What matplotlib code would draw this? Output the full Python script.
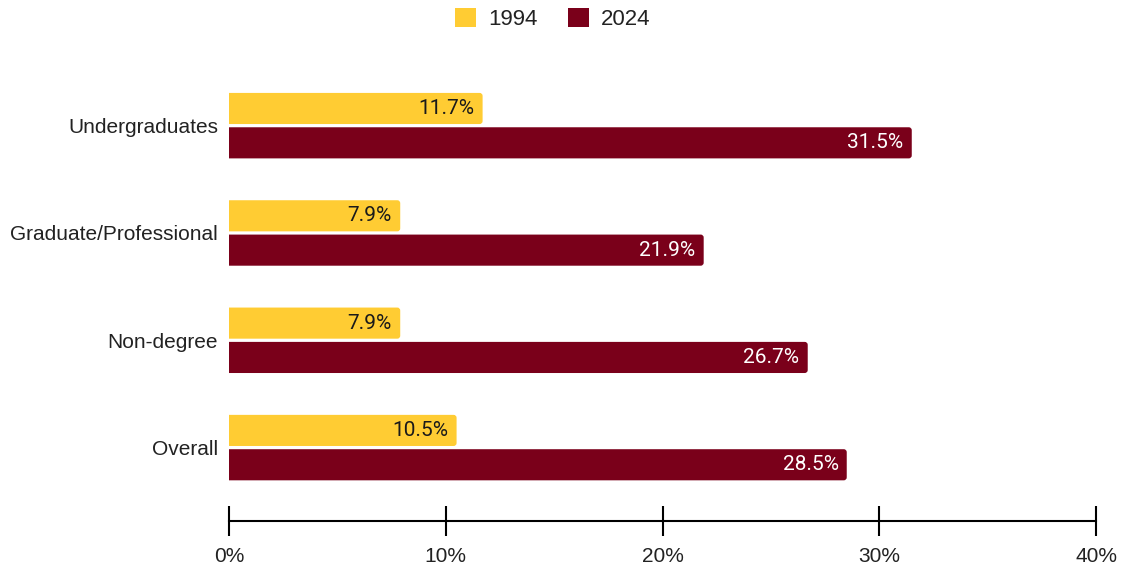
import matplotlib.pyplot as plt
from matplotlib.ticker import FixedLocator
from matplotlib.patches import FancyBboxPatch

categories = ["Undergraduates", "Graduate/Professional", "Non-degree", "Overall"]
values_1994 = [11.7, 7.9, 7.9, 10.5]
values_2024 = [31.5, 21.9, 26.7, 28.5]
series_names = ["1994", "2024"]
tick_values = [0, 10, 20, 30, 40]
tick_labels = ["0%", "10%", "20%", "30%", "40%"]

GOLD = "#FFCC33"
MAROON = "#7A001A"

fig = plt.figure(figsize=(11.28, 5.88), dpi=100)
ax = fig.add_axes([229 / 1128, 1 - 521 / 588, (1096 - 229) / 1128, (521 - 72) / 588])

pos = list(range(len(categories)))
h = 0.29
off = 0.16
bars_a = ax.barh([p - off for p in pos], values_1994, height=h, color=GOLD, label=series_names[0])
bars_b = ax.barh([p + off for p in pos], values_2024, height=h, color=MAROON, label=series_names[1])

ax.set_xlim(0, 40)
ax.set_ylim(3.684, -0.5)

# Replace each bar with a box whose right corners are rounded; the box starts
# left of zero so the axes clip gives a square left edge
px_x = 40 / 867.0
px_y = 1 / 107.3
radius = 3 * px_x
for bar in list(bars_a) + list(bars_b):
    x0, y0 = bar.get_x(), bar.get_y()
    w, hh = bar.get_width(), bar.get_height()
    rounded = FancyBboxPatch((x0 - 2 * radius, y0), w + 2 * radius, hh,
                             boxstyle=f"round,pad=0,rounding_size={radius}",
                             mutation_aspect=px_y / px_x,
                             facecolor=bar.get_facecolor(), edgecolor="none")
    ax.add_patch(rounded)
    bar.set_visible(False)

for p, v in zip(pos, values_1994):
    ax.text(v - 0.38, p - off, f"{v:.1f}%", ha="right", va="center",
            fontsize=15, family="Roboto", color="#1a1a1a")
for p, v in zip(pos, values_2024):
    ax.text(v - 0.38, p + off, f"{v:.1f}%", ha="right", va="center",
            fontsize=15, family="Roboto", color="white")

ax.set_yticks(pos)
ax.set_yticklabels(categories, family="Liberation Sans", fontsize=15, color="#222222")
ax.tick_params(axis="y", length=0, pad=8)

ax.xaxis.set_major_locator(FixedLocator(tick_values))
ax.set_xticklabels(tick_labels, family="Liberation Sans", fontsize=15, color="#222222")
ax.tick_params(axis="x", direction="inout", length=21, width=1.5, color="black", pad=8)

for s in ["top", "right", "left"]:
    ax.spines[s].set_visible(False)
ax.spines["bottom"].set_linewidth(1.5)
ax.spines["bottom"].set_color("black")
ax.spines["bottom"].set_bounds(0, 40)

leg_a = plt.Rectangle((0, 0), 1, 1, facecolor=GOLD, edgecolor="none")
leg_b = plt.Rectangle((0, 0), 1, 1, facecolor=MAROON, edgecolor="none")
leg = fig.legend(handles=[leg_a, leg_b], labels=series_names, loc="upper center",
                 bbox_to_anchor=(0.490, 1.02), ncol=2, frameon=False,
                 prop={"family": "Liberation Sans", "size": 16},
                 handlelength=0.95, handleheight=0.95, handletextpad=0.55, columnspacing=1.35)
for t in leg.get_texts():
    t.set_color("#222222")

fig.savefig("out.png", dpi=100, facecolor="white")
